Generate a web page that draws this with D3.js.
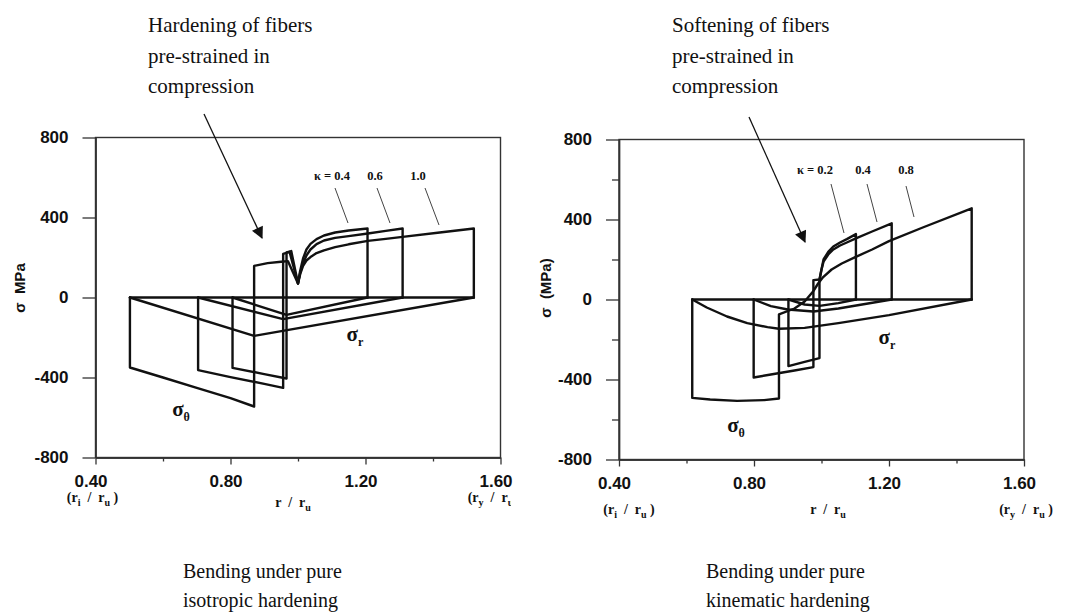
<!DOCTYPE html>
<html>
<head>
<meta charset="utf-8">
<script src="https://cdn.jsdelivr.net/npm/d3@7"></script>
<style>
  html, body { margin: 0; padding: 0; background: #fff; }
  svg { display: block; }
</style>
</head>
<body>
<svg id="chart" width="1075" height="616"></svg>
<script>
// ---- axis ticks ----
const xMajorTicks = [0.40, 0.80, 1.20, 1.60];
const xMinorTicks = [0.60, 1.00, 1.40];
const yMajorTicks = [-800, -400, 0, 400, 800];
const yMinorTicksIso = [];
const yMinorTicksKin = [-600, -200, 200, 600];

// ---- isotropic hardening: [r/ru, stress MPa] ----
const isoKappa = ["0.4", "0.6", "1.0"];
const isoZero = [[0.502, 0], [1.521, 0]];
const isoThetaK10 = [[0.502, 0], [0.502, -350], [0.60, -400], [0.70, -452], [0.80, -503], [0.87, -545],
  [0.87, 158], [0.91, 172], [0.95, 179], [0.97, 182], [1.00, 70], [1.007, 120], [1.015, 158], [1.025, 185],
  [1.037, 202], [1.055, 222], [1.077, 236], [1.11, 252], [1.15, 266], [1.207, 283], [1.26, 293], [1.31, 303],
  [1.42, 325], [1.521, 345], [1.521, 0]];
const isoThetaK06 = [[0.704, 0], [0.704, -363], [0.80, -398], [0.90, -432], [0.956, -452], [0.956, 218],
  [0.975, 228], [1.00, 70], [1.006, 120], [1.015, 170], [1.025, 210], [1.037, 240], [1.055, 267], [1.077, 285],
  [1.11, 298], [1.15, 307], [1.207, 320], [1.26, 333], [1.31, 345], [1.31, 0]];
const isoThetaK04 = [[0.806, 0], [0.806, -352], [0.90, -383], [0.966, -405], [0.966, 225], [0.98, 232],
  [1.00, 70], [1.006, 130], [1.015, 195], [1.025, 240], [1.037, 268], [1.055, 292], [1.077, 310], [1.11, 325],
  [1.15, 335], [1.206, 345], [1.206, 0]];
const isoRadialK10 = [[0.502, 0], [0.87, -192], [1.521, 0]];
const isoRadialK06 = [[0.704, 0], [0.956, -108], [1.31, 0]];
const isoRadialK04 = [[0.806, 0], [0.966, -87], [1.206, 0]];

// ---- kinematic hardening: [r/ru, stress MPa] ----
const kinKappa = ["0.2", "0.4", "0.8"];
const kinZero = [[0.617, 0], [1.445, 0]];
const kinThetaK08 = [[0.617, 0], [0.617, -492], [0.67, -500], [0.75, -507], [0.83, -503], [0.874, -495],
  [0.874, -74], [0.92, -45], [0.95, -10], [0.975, 40], [0.99, 80], [1.005, 112], [1.03, 150], [1.06, 180],
  [1.10, 212], [1.15, 250], [1.20, 292], [1.30, 360], [1.445, 456], [1.445, 0]];
const kinThetaK04 = [[0.799, 0], [0.799, -390], [0.85, -375], [0.92, -355], [0.976, -338], [0.976, 97],
  [0.994, 100], [1.00, 150], [1.006, 189], [1.02, 225], [1.035, 250], [1.055, 270], [1.075, 285],
  [1.102, 306], [1.15, 340], [1.208, 381], [1.208, 0]];
const kinThetaK02 = [[0.902, 0], [0.902, -333], [0.95, -312], [0.994, -293], [0.994, 97], [1.00, 150],
  [1.006, 200], [1.02, 238], [1.035, 265], [1.055, 285], [1.075, 302], [1.102, 327], [1.102, 0]];
const kinRadialK08 = [[0.617, 0], [0.66, -40], [0.72, -85], [0.78, -118], [0.84, -138], [0.874, -146],
  [0.95, -142], [1.05, -118], [1.20, -78], [1.445, 0]];
const kinRadialK04 = [[0.799, 0], [0.85, -33], [0.90, -50], [0.976, -60], [1.05, -45], [1.208, 0]];
const kinRadialK02 = [[0.902, 0], [0.95, -25], [0.994, -32], [1.05, -18], [1.102, 0]];

const svg = d3.select("#chart");
const SANS = "'Liberation Sans', Arial, sans-serif";
const SERIF = "'Liberation Serif', 'Times New Roman', serif";
const INK = "#111";

const defs = svg.append("defs");
defs.append("marker")
  .attr("id", "arrowHead")
  .attr("viewBox", "0 0 10 10")
  .attr("refX", 9).attr("refY", 5)
  .attr("markerWidth", 14).attr("markerHeight", 12)
  .attr("markerUnits", "userSpaceOnUse")
  .attr("orient", "auto")
  .append("path").attr("d", "M0,0 L10,5 L0,10 Z").attr("fill", INK);

defs.append("clipPath").attr("id", "clipLeft")
  .append("rect").attr("x", 0).attr("y", 0).attr("width", 511).attr("height", 616);

// text with subscript parts: parts = [[text, isSub], ...]
function richText(g, x, y, parts, opts) {
  const t = g.append("text")
    .attr("x", x).attr("y", y)
    .attr("font-family", opts.family)
    .attr("font-size", opts.size)
    .attr("font-weight", opts.weight || "normal")
    .attr("text-anchor", opts.anchor || "middle")
    .attr("xml:space", "preserve")
    .attr("fill", INK);
  let shifted = false;
  parts.forEach(([s, sub]) => {
    const sp = t.append("tspan").text(s);
    if (sub && !shifted) { sp.attr("dy", opts.subDy).attr("font-size", opts.subSize); shifted = true; }
    else if (sub) { sp.attr("font-size", opts.subSize); }
    else if (!sub && shifted) { sp.attr("dy", -opts.subDy); shifted = false; }
  });
  return t;
}

function drawPanel(cfg) {
  const g = svg.append("g");
  const x = d3.scaleLinear().domain([0.4, 1.6]).range(cfg.xRange);
  const y = d3.scaleLinear().domain([-800, 800]).range(cfg.yRange);
  const [x0, x1] = cfg.xRange;
  const [yb, yt] = cfg.yRange;

  // frame
  g.append("rect")
    .attr("x", x0).attr("y", yt).attr("width", x1 - x0).attr("height", yb - yt)
    .attr("fill", "none").attr("stroke", "#333").attr("stroke-width", 1.4);

  // minor ticks
  const yMinor = d3.axisLeft(y).tickValues(cfg.yMinor).tickSize(7).tickFormat("").tickSizeOuter(0);
  const xMinor = d3.axisBottom(x).tickValues(xMinorTicks).tickSize(4).tickFormat("").tickSizeOuter(0);
  g.append("g").attr("transform", `translate(${x0},0)`).call(yMinor);
  g.append("g").attr("transform", `translate(0,${yb})`).call(xMinor);

  // major ticks with labels
  const yAxis = d3.axisLeft(y).tickValues(yMajorTicks).tickSize(13).tickPadding(14)
    .tickFormat(d => String(d)).tickSizeOuter(0);
  const xAxis = d3.axisBottom(x).tickValues(xMajorTicks).tickSize(7).tickPadding(10)
    .tickFormat(d3.format(".2f")).tickSizeOuter(0);
  g.append("g").attr("transform", `translate(${x0},0)`).call(yAxis);
  const xg = g.append("g").attr("transform", `translate(0,${yb})`).call(xAxis);

  g.selectAll(".domain").attr("stroke", "#333").attr("stroke-width", 1.4);
  g.selectAll(".tick line").attr("stroke", "#333").attr("stroke-width", 1.3);
  g.selectAll(".tick text")
    .attr("font-family", SANS).attr("font-size", 17).attr("font-weight", "bold").attr("fill", INK);
  xg.selectAll(".tick text").attr("dx", -5);

  // curves
  const line = d3.line().x(d => x(d[0])).y(d => y(d[1]));
  const curves = g.append("g")
    .attr("fill", "none").attr("stroke", INK).attr("stroke-width", 2.4)
    .attr("stroke-linejoin", "round").attr("stroke-linecap", "round");
  curves.append("path").attr("d", line(cfg.zero));
  cfg.radial.forEach(s => curves.append("path").attr("d", line(s)));
  cfg.theta.forEach(s => curves.append("path").attr("d", line(s)));

  // axis unit labels under ticks
  const lab = g.append("g");
  if (cfg.clip) lab.attr("clip-path", "url(#clipLeft)");
  const subOpts = { family: SERIF, size: 14, weight: "bold", subSize: 10, subDy: 4 };
  richText(lab, x(0.4) + cfg.riDx, cfg.unitY, [["(r", 0], ["i", 1], ["  /  r", 0], ["u", 1], [" )", 0]], subOpts);
  richText(lab, cfg.rLabelX, cfg.rLabelY, [["r  /  r", 0], ["u", 1]], subOpts);
  richText(lab, x(1.6) + cfg.ryDx, cfg.unitY, [["(r", 0], ["y", 1], ["  /  r", 0], ["u", 1], [" )", 0]], subOpts);

  // y axis title
  g.append("text")
    .attr("transform", `translate(${cfg.yTitleX},${cfg.yTitleY}) rotate(-90)`)
    .attr("text-anchor", "middle")
    .attr("font-family", SANS).attr("font-size", 15).attr("font-weight", "bold").attr("fill", INK)
    .attr("xml:space", "preserve")
    .text(cfg.yTitle);

  // σθ and σr labels
  const sigOpts = { family: SERIF, size: 21, weight: "bold", subSize: 12, subDy: 5, anchor: "middle" };
  richText(g, cfg.thetaLabel[0], cfg.thetaLabel[1], [["σ", 0], ["θ", 1]], sigOpts);
  richText(g, cfg.radialLabel[0], cfg.radialLabel[1], [["σ", 0], ["r", 1]], sigOpts);

  // κ labels with leader lines
  cfg.kappa.forEach((k, i) => {
    g.append("text")
      .attr("x", cfg.kappaX[i]).attr("y", cfg.kappaY)
      .attr("text-anchor", "middle")
      .attr("font-family", SERIF).attr("font-size", 12.5).attr("font-weight", "bold").attr("fill", INK)
      .text(i === 0 ? "κ = " + k : k);
    const L = cfg.leaders[i];
    g.append("line")
      .attr("x1", L[0]).attr("y1", L[1]).attr("x2", L[2]).attr("y2", L[3])
      .attr("stroke", "#444").attr("stroke-width", 1);
  });

  // annotation text and arrow
  const ann = g.append("text")
    .attr("font-family", SERIF).attr("font-size", 21).attr("fill", INK);
  cfg.note.forEach((s, i) => {
    ann.append("tspan").attr("x", cfg.noteX).attr("y", cfg.noteY[i]).text(s);
  });
  g.append("line")
    .attr("x1", cfg.arrow[0]).attr("y1", cfg.arrow[1]).attr("x2", cfg.arrow[2]).attr("y2", cfg.arrow[3])
    .attr("stroke", INK).attr("stroke-width", 1.3).attr("marker-end", "url(#arrowHead)");

  // caption
  const cap = g.append("text").attr("font-family", SERIF).attr("font-size", 20).attr("fill", INK);
  cfg.caption.forEach((s, i) => {
    cap.append("tspan").attr("x", cfg.captionX).attr("y", cfg.captionY[i]).text(s);
  });
}

drawPanel({
  xRange: [95.5, 500.5], yRange: [457.5, 137.5], yMinor: yMinorTicksIso,
  zero: isoZero,
  theta: [isoThetaK10, isoThetaK06, isoThetaK04],
  radial: [isoRadialK10, isoRadialK06, isoRadialK04],
  clip: true, unitY: 502, riDx: -3, rLabelX: 293, rLabelY: 507, ryDx: -6,
  yTitle: "σ  MPa", yTitleX: 25, yTitleY: 288,
  thetaLabel: [181, 416], radialLabel: [355, 341],
  kappa: isoKappa, kappaX: [332, 375, 418], kappaY: 180,
  leaders: [[335, 188, 348, 223], [377, 188, 390, 223], [425, 188, 439, 225]],
  note: ["Hardening of fibers", "pre-strained in", "compression"], noteX: 148, noteY: [32, 63, 93],
  arrow: [204, 114, 262, 238],
  caption: ["Bending under pure", "isotropic hardening"], captionX: 183, captionY: [578, 607]
});

drawPanel({
  xRange: [619, 1024], yRange: [459.5, 139.5], yMinor: yMinorTicksKin,
  zero: kinZero,
  theta: [kinThetaK08, kinThetaK04, kinThetaK02],
  radial: [kinRadialK08, kinRadialK04, kinRadialK02],
  clip: false, unitY: 514, riDx: 10, rLabelX: 828, rLabelY: 514, ryDx: 2,
  yTitle: "σ  (MPa)", yTitleX: 551, yTitleY: 288,
  thetaLabel: [736, 432], radialLabel: [887, 344],
  kappa: kinKappa, kappaX: [815, 863, 906], kappaY: 174,
  leaders: [[831, 184, 844, 233], [867, 184, 877, 222], [906, 186, 914, 217]],
  note: ["Softening of fibers", "pre-strained in", "compression"], noteX: 672, noteY: [32, 63, 93],
  arrow: [749, 117, 805, 242],
  caption: ["Bending under pure", "kinematic hardening"], captionX: 706, captionY: [578, 607]
});
</script>
</body>
</html>
